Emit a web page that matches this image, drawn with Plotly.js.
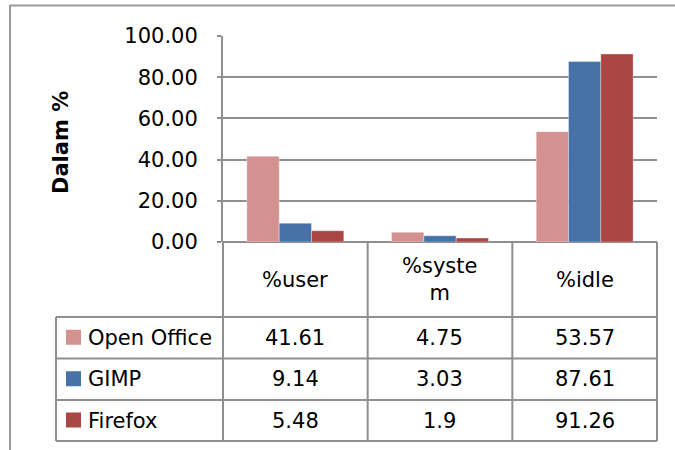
<!DOCTYPE html>
<html>
<head>
<meta charset="utf-8">
<script src="https://cdn.plot.ly/plotly-3.0.1.min.js"></script>
<style>
  html, body { margin: 0; padding: 0; background: #ffffff; }
  #chart { width: 675px; height: 450px; }
</style>
</head>
<body>
<div id="chart"></div>
<script>
// ---- data ----
const categories = ['%user', '%system', '%idle'];
const seriesNames = ['Open Office', 'GIMP', 'Firefox'];
const openOffice = [41.61, 4.75, 53.57];
const gimp = [9.14, 3.03, 87.61];
const firefox = [5.48, 1.9, 91.26];
const yTickValues = [0, 20, 40, 60, 80, 100];
const yAxisTitle = 'Dalam %';

// ---- styles ----
const seriesValues = [openOffice, gimp, firefox];
const seriesColors = ['#D39290', '#4672A8', '#AA4643'];
const FONT = 'DejaVu Sans, sans-serif';
const GRID = '#8f8f8f';

// plot area geometry in pixels
const L = 223, R = 657, T = 36, B = 242;
const PW = R - L, PH = B - T;
const px = v => (v - L) / PW;          // pixel x -> paper
const py = v => (B - v) / PH;          // pixel y -> paper

function wrap(s, n) {
  const out = [];
  for (let i = 0; i < s.length; i += n) out.push(s.slice(i, i + n));
  return out.join('<br>');
}

const traces = seriesNames.map((name, i) => ({
  type: 'bar',
  name: name,
  x: categories,
  y: seriesValues[i],
  marker: { color: seriesColors[i], line: { color: 'rgba(255,255,255,0.35)', width: 1 } },
  hoverinfo: 'x+y+name'
}));

// table geometry (pixels)
const tableLeft = 56;
const colEdges = [L, L + PW / 3, L + 2 * PW / 3, R];
const rowEdges = [B, 317, 358.5, 400, 441];

const shapes = [];
const line = (x0, y0, x1, y1, c, w) => shapes.push({
  type: 'line', xref: 'paper', yref: 'paper',
  x0: px(x0), y0: py(y0), x1: px(x1), y1: py(y1),
  line: { color: c || GRID, width: w || 2 }
});

// outer chart border
line(10, 5, 10, 452, '#9a9a9a', 2);
line(10, 5.5, 677, 5.5, '#9a9a9a', 2);

// table lines
for (let r = 1; r < rowEdges.length; r++) line(tableLeft, rowEdges[r], R, rowEdges[r]);
colEdges.forEach(x => line(x, B, x, rowEdges[rowEdges.length - 1]));
line(tableLeft, rowEdges[1], tableLeft, rowEdges[rowEdges.length - 1]);

const annotations = [];
// y axis title
annotations.push({
  xref: 'paper', yref: 'paper', x: px(61), y: py(143),
  text: '<b>' + yAxisTitle + '</b>', textangle: -90, showarrow: false,
  xanchor: 'center', yanchor: 'middle',
  font: { family: FONT, size: 21, color: '#000' }
});

// category header row
categories.forEach((c, j) => {
  annotations.push({
    xref: 'paper', yref: 'paper',
    x: px((colEdges[j] + colEdges[j + 1]) / 2), y: py((rowEdges[0] + rowEdges[1]) / 2),
    text: wrap(c, 6), showarrow: false, xanchor: 'center', yanchor: 'middle',
    font: { family: FONT, size: 21, color: '#000' }
  });
});

// series rows: legend key, name, values
seriesNames.forEach((name, i) => {
  const yc = (rowEdges[i + 1] + rowEdges[i + 2]) / 2;
  shapes.push({
    type: 'rect', xref: 'paper', yref: 'paper',
    x0: px(66), x1: px(81), y0: py(yc - 8), y1: py(yc + 7),
    fillcolor: seriesColors[i], line: { width: 0 }
  });
  annotations.push({
    xref: 'paper', yref: 'paper', x: px(86), y: py(yc),
    text: name, showarrow: false, xanchor: 'left', yanchor: 'middle',
    font: { family: FONT, size: 21, color: '#000' }
  });
  seriesValues[i].forEach((v, j) => {
    annotations.push({
      xref: 'paper', yref: 'paper',
      x: px((colEdges[j] + colEdges[j + 1]) / 2), y: py(yc),
      text: String(v), showarrow: false, xanchor: 'center', yanchor: 'middle',
      font: { family: FONT, size: 21, color: '#000' }
    });
  });
});

const layout = {
  width: 675, height: 450,
  margin: { l: L, r: 675 - R, t: T, b: 450 - B, pad: 0 },
  paper_bgcolor: '#ffffff', plot_bgcolor: '#ffffff',
  barmode: 'group', bargap: 0.33, bargroupgap: 0,
  showlegend: false,
  font: { family: FONT, size: 21, color: '#000' },
  xaxis: {
    type: 'category', showticklabels: false, showgrid: false,
    zeroline: false, showline: false, ticks: '', fixedrange: true
  },
  yaxis: {
    range: [0, 100], tickvals: yTickValues, tickformat: '.2f',
    showgrid: true, gridcolor: GRID, gridwidth: 2,
    zeroline: true, zerolinecolor: GRID, zerolinewidth: 2,
    showline: true, linecolor: GRID, linewidth: 2,
    ticks: 'outside', ticklen: 4, tickcolor: GRID, tickwidth: 2,
    ticklabelstandoff: 15,
    tickfont: { family: FONT, size: 21, color: '#000' },
    fixedrange: true
  },
  shapes: shapes,
  annotations: annotations
};

Plotly.newPlot('chart', traces, layout, { displayModeBar: false, staticPlot: true });
</script>
</body>
</html>
